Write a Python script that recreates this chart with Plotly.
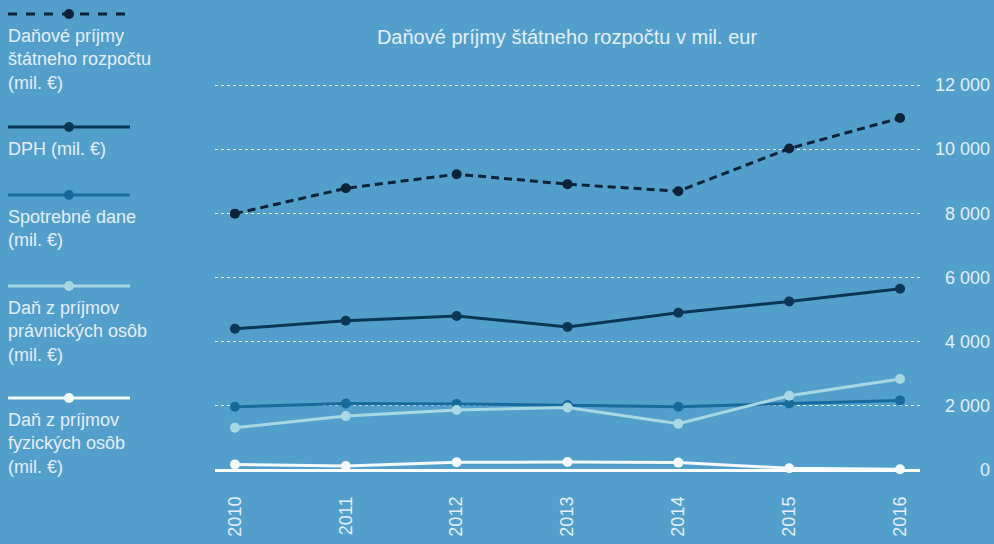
import plotly.graph_objects as go

years = ["2010", "2011", "2012", "2013", "2014", "2015", "2016"]
total = [7990, 8780, 9220, 8910, 8690, 10020, 10970]
dph = [4400, 4650, 4800, 4460, 4900, 5255, 5650]
spotrebne = [1970, 2075, 2060, 2025, 1970, 2075, 2170]
pravnicke = [1320, 1680, 1870, 1950, 1445, 2315, 2835]
fyzicke = [175, 125, 240, 250, 230, 55, 25]

series_names = [
    "Daňové príjmy<br>štátneho rozpočtu<br>(mil. €)",
    "DPH (mil. €)",
    "Spotrebné dane<br>(mil. €)",
    "Daň z príjmov<br>právnických osôb<br>(mil. €)",
    "Daň z príjmov<br>fyzických osôb<br>(mil. €)",
]
series_values = [total, dph, spotrebne, pravnicke, fyzicke]
colors = ["#0c2238", "#0b3656", "#196a9c", "#a6d7e3", "#f3f9fc"]
dashes = ["8px,5px", "solid", "solid", "solid", "solid"]

ytick_vals = [0, 2000, 4000, 6000, 8000, 10000, 12000]
ytick_text = ["0", "2 000", "4 000", "6 000", "8 000", "10 000", "12 000"]

BG = "#539fcb"
TXT = "#e4eff7"
FONT = "Liberation Sans"

W, H = 994, 544
L, R, T, B = 215, 0, 82, 74
PW = W - L - R
PH = H - T - B
YMAX = 12000 * PH / (470 - 85)


def px(x):
    return (x - L) / PW


def py(y):
    return (H - B - y) / PH


fig = go.Figure()
for name, vals, col, dsh in zip(series_names, series_values, colors, dashes):
    fig.add_trace(go.Scatter(
        x=years, y=vals, mode="lines+markers", name=name,
        line=dict(color=col, width=3, dash=dsh),
        marker=dict(color=col, size=10),
        cliponaxis=False, showlegend=False,
    ))

# custom legend (swatch above text)
swatch_y = [14, 127, 195, 286, 398]
for name, col, dsh, sy in zip(series_names, colors, dashes, swatch_y):
    fig.add_shape(type="line", xref="paper", yref="paper",
                  x0=px(8), x1=px(130), y0=py(sy), y1=py(sy),
                  line=dict(color=col, width=3, dash="dash" if dsh != "solid" else "solid"))
    fig.add_shape(type="circle", xref="paper", yref="paper",
                  x0=px(64), x1=px(74), y0=py(sy + 5), y1=py(sy - 5),
                  fillcolor=col, line=dict(width=0))
    fig.add_annotation(xref="paper", yref="paper", x=px(6), y=py(sy + 10),
                       xanchor="left", yanchor="top", align="left",
                       text=name, showarrow=False,
                       font=dict(family=FONT, size=18, color=TXT))

fig.update_layout(
    width=W, height=H,
    paper_bgcolor=BG, plot_bgcolor=BG,
    margin=dict(l=L, r=R, t=T, b=B),
    font=dict(family=FONT, size=18, color=TXT),
    title=dict(text="Daňové príjmy štátneho rozpočtu v mil. eur",
               xref="paper", x=px(567), xanchor="center",
               yref="container", y=1 - 37 / H, yanchor="middle",
               font=dict(family=FONT, size=20, color=TXT)),
    xaxis=dict(domain=[0, 705 / PW], range=[-0.18, 6.18],
               showgrid=False, zeroline=False, showline=False,
               tickangle=-90, ticks="", ticklabelstandoff=22,
               tickfont=dict(family=FONT, size=18, color=TXT)),
    yaxis=dict(anchor="free", position=1 - 4 / PW, side="left",
               range=[0, YMAX], tickvals=ytick_vals, ticktext=ytick_text,
               showgrid=True, gridcolor="rgba(255,255,255,0.85)", griddash="dot",
               gridwidth=1, zeroline=True, zerolinecolor="#ffffff", zerolinewidth=3,
               showline=False, ticks="",
               tickfont=dict(family=FONT, size=18, color=TXT)),
)

fig.write_html("out.html", config={"displayModeBar": False},
               post_script="document.body.style.margin='0px';")
